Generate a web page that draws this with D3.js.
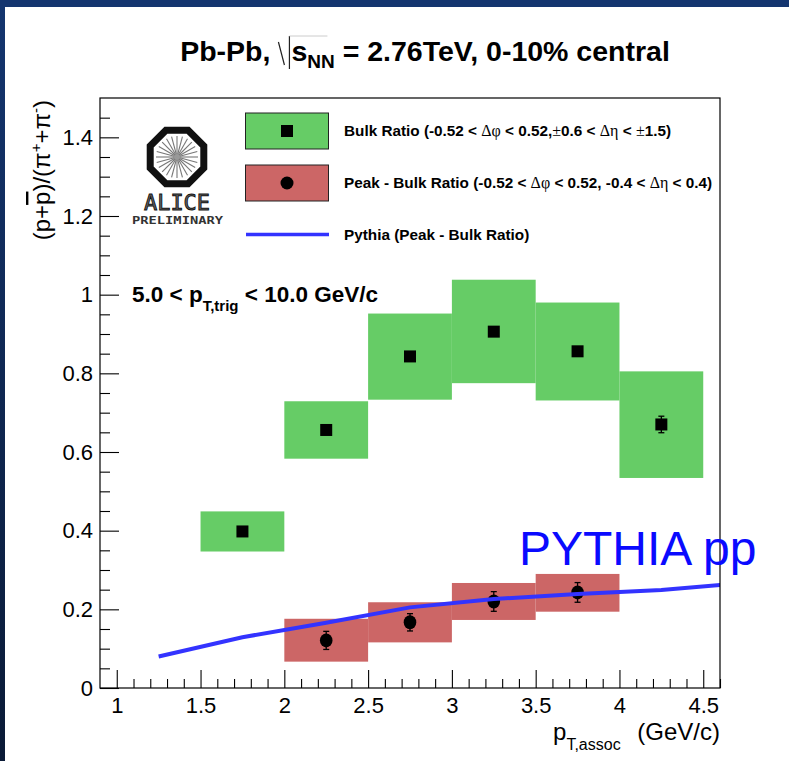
<!DOCTYPE html>
<html lang="en">
<head>
<meta charset="utf-8">
<title>Baryon / meson ratio, Pb-Pb 2.76 TeV</title>
<script src="https://d3js.org/d3.v7.min.js"></script>
<style>
  html, body { margin:0; padding:0; background:#fff; }
  svg { display:block; font-family:"Liberation Sans", Arial, Helvetica, sans-serif; }
  text { white-space: pre; }
</style>
</head>
<body>
<div id="chart"></div>
<script>
// ─── Data ────────────────────────────────────────────────────────────────────
const binHalf = 0.25;

// Bulk ratio
const bulkX     = [1.75, 2.25, 2.75, 3.25, 3.75, 4.25];
const bulkY     = [0.398, 0.656, 0.843, 0.906, 0.856, 0.670];
const bulkErr   = [0.008, 0.010, 0.010, 0.010, 0.010, 0.021];
const bulkSysLo = [0.347, 0.583, 0.733, 0.775, 0.731, 0.534];
const bulkSysHi = [0.449, 0.729, 0.952, 1.038, 0.980, 0.805];

// Peak - Bulk ratio
const peakX     = [2.25, 2.75, 3.25, 3.75];
const peakY     = [0.121, 0.167, 0.220, 0.243];
const peakErr   = [0.023, 0.022, 0.025, 0.025];
const peakSysLo = [0.067, 0.116, 0.173, 0.194];
const peakSysHi = [0.176, 0.218, 0.267, 0.290];

// Pythia (Peak - Bulk ratio)
const pythiaX = [1.25, 1.75, 2.25, 2.75, 3.25, 3.75, 4.25, 4.75];
const pythiaY = [0.080, 0.129, 0.166, 0.205, 0.226, 0.239, 0.249, 0.267];

// Axis ticks
const xMajor = [1, 1.5, 2, 2.5, 3, 3.5, 4, 4.5];
const xTickLabels = ["1", "1.5", "2", "2.5", "3", "3.5", "4", "4.5"];
const xMinor = d3.range(10, 47).map(v => v / 10).filter(v => !xMajor.includes(v));
const yMajor = [0, 0.2, 0.4, 0.6, 0.8, 1.0, 1.2, 1.4];
const yTickLabels = ["0", "0.2", "0.4", "0.6", "0.8", "1", "1.2", "1.4"];
const yMinor = d3.range(1, 30).map(v => v * 0.05).filter(v => Math.abs(v / 0.2 - Math.round(v / 0.2)) > 1e-6);

const legendLabels = [
  ["Bulk Ratio (-0.52 < ", {s:"Δφ"}, " < 0.52,", {s:"±"}, "0.6 < ", {s:"Δη"}, " < ", {s:"±"}, "1.5)"],
  ["Peak - Bulk Ratio (-0.52 < ", {s:"Δφ"}, " < 0.52, -0.4 < ", {s:"Δη"}, " < 0.4)"],
  ["Pythia (Peak - Bulk Ratio)"]
];
// ─────────────────────────────────────────────────────────────────────────────

const W = 789, H = 761;
const plot = { left: 100, right: 720, top: 98, bottom: 688 };
const GREEN = "#66cc66", RED = "#cc6666", BLUE = "#3333ff";

const svg = d3.select("#chart").append("svg").attr("width", W).attr("height", H);

// slide frame
const grad = svg.append("defs").append("linearGradient")
  .attr("id", "band").attr("x1", 0).attr("x2", 0).attr("y1", 0).attr("y2", 1);
grad.append("stop").attr("offset", "0%").attr("stop-color", "#14356f");
grad.append("stop").attr("offset", "100%").attr("stop-color", "#0a1a36");
svg.append("rect").attr("width", W).attr("height", H).attr("fill", "#fff");
svg.append("rect").attr("x", 0).attr("y", 0).attr("width", 5).attr("height", H).attr("fill", "url(#band)");
svg.append("rect").attr("x", 0).attr("y", 0).attr("width", W).attr("height", 7).attr("fill", "#14356f");

svg.select("defs").append("clipPath").attr("id", "plotClip")
  .append("rect").attr("x", plot.left).attr("y", plot.top)
  .attr("width", plot.right - plot.left).attr("height", plot.bottom - plot.top);

const x = d3.scaleLinear().domain([0.9, 4.6]).range([plot.left, plot.right]);
const y = d3.scaleLinear().domain([0, 1.5]).range([plot.bottom, plot.top]);

// Systematic boxes
function boxes(xs, lo, hi, color) {
  svg.append("g").selectAll("rect").data(xs).join("rect")
    .attr("x", d => x(d - binHalf))
    .attr("width", d => x(d + binHalf) - x(d - binHalf))
    .attr("y", (d, i) => y(hi[i]))
    .attr("height", (d, i) => y(lo[i]) - y(hi[i]))
    .attr("fill", color);
}
boxes(bulkX, bulkSysLo, bulkSysHi, GREEN);
boxes(peakX, peakSysLo, peakSysHi, RED);

// Error bars
function errBars(xs, ys, es) {
  const g = svg.append("g").attr("stroke", "#000").attr("stroke-width", 1.3);
  xs.forEach((d, i) => {
    const cx = x(d), y1 = y(ys[i] + es[i]), y2 = y(ys[i] - es[i]);
    g.append("line").attr("x1", cx).attr("x2", cx).attr("y1", y1).attr("y2", y2);
    g.append("line").attr("x1", cx - 3).attr("x2", cx + 3).attr("y1", y1).attr("y2", y1);
    g.append("line").attr("x1", cx - 3).attr("x2", cx + 3).attr("y1", y2).attr("y2", y2);
  });
}
errBars(bulkX, bulkY, bulkErr);
errBars(peakX, peakY, peakErr);

svg.append("g").selectAll("rect").data(bulkX).join("rect")
  .attr("x", d => x(d) - 6).attr("y", (d, i) => y(bulkY[i]) - 6)
  .attr("width", 12).attr("height", 12).attr("fill", "#000");
svg.append("g").selectAll("ellipse").data(peakX).join("ellipse")
  .attr("cx", d => x(d)).attr("cy", (d, i) => y(peakY[i]))
  .attr("rx", 6.3).attr("ry", 7).attr("fill", "#000");

// Pythia curve
svg.append("path")
  .datum(pythiaX.map((d, i) => [d, pythiaY[i]]))
  .attr("clip-path", "url(#plotClip)")
  .attr("d", d3.line().x(d => x(d[0])).y(d => y(d[1])))
  .attr("fill", "none").attr("stroke", BLUE).attr("stroke-width", 4);

// Axes
const yAx = svg.append("g").attr("transform", `translate(${plot.left},0)`);
yAx.call(d3.axisLeft(y).tickValues(yMajor).tickSize(-19).tickPadding(7)
  .tickFormat((d, i) => yTickLabels[i]));
yAx.append("g").call(d3.axisLeft(y).tickValues(yMinor).tickSize(-10).tickFormat(""));
const xAx = svg.append("g").attr("transform", `translate(0,${plot.bottom})`);
xAx.call(d3.axisBottom(x).tickValues(xMajor).tickSize(-18).tickPadding(9)
  .tickFormat((d, i) => xTickLabels[i]));
xAx.append("g").call(d3.axisBottom(x).tickValues(xMinor).tickSize(-9).tickFormat(""));
svg.selectAll(".domain").remove();
svg.selectAll(".tick line").attr("stroke", "#000").attr("stroke-width", 1.1);
svg.selectAll(".tick text").attr("fill", "#000")
  .style("font-size", "22px").style("font-family", "Liberation Sans, Arial, sans-serif");

// frame
svg.append("rect").attr("x", plot.left).attr("y", plot.top)
  .attr("width", plot.right - plot.left).attr("height", plot.bottom - plot.top)
  .attr("fill", "none").attr("stroke", "#000").attr("stroke-width", 1.2);

// Axis titles
const yt = svg.append("text")
  .attr("transform", `translate(50,${plot.top + 2}) rotate(-90)`)
  .attr("text-anchor", "end").style("font-size", "24px");
yt.append("tspan").text("(p+");
yt.append("tspan").style("text-decoration", "overline").text("p");
yt.append("tspan").text(")/(π");
yt.append("tspan").attr("dy", -9).style("font-size", "15px").text("+");
yt.append("tspan").attr("dy", 9).text("+π");
yt.append("tspan").attr("dy", -9).style("font-size", "15px").text("-");
yt.append("tspan").attr("dy", 9).text(")");

const xt = svg.append("text").attr("x", plot.right).attr("y", 740)
  .attr("text-anchor", "end").style("font-size", "24px");
xt.append("tspan").text("p");
xt.append("tspan").attr("dy", 10).style("font-size", "16px").text("T,assoc");
xt.append("tspan").attr("dy", -10).attr("dx", 10).text(" (GeV/c)");

// Title with root-style sqrt
const titleBase = 61, titleSize = 28.5;
const t1 = svg.append("text").attr("y", titleBase).style("font-size", titleSize + "px")
  .style("font-weight", "bold").text("Pb-Pb,");
const t2 = svg.append("text").attr("y", titleBase).style("font-size", titleSize + "px")
  .style("font-weight", "bold");
t2.append("tspan").text("s");
t2.append("tspan").attr("dy", 7).style("font-size", "19px").text("NN");
t2.append("tspan").attr("dy", -7).text(" = 2.76TeV, 0-10% central");
const w1 = t1.node().getComputedTextLength() + 8;
const w2 = t2.node().getComputedTextLength();
const sqW = 13;
const x0 = 425 - (w1 + sqW + w2) / 2;
t1.attr("x", x0);
t2.attr("x", x0 + w1 + sqW);
const sx = x0 + w1;
svg.append("path")
  .attr("d", `M${sx},${titleBase - 19} L${sx + 6},${titleBase + 4} M${sx + 11},${titleBase + 8} L${sx + 11},${titleBase - 25}`)
  .attr("stroke", "#222").attr("stroke-width", 1.2).attr("fill", "none");
svg.append("line").attr("x1", sx + 11).attr("x2", sx + sqW + 36).attr("y1", titleBase - 25).attr("y2", titleBase - 25)
  .attr("stroke", "#ccc").attr("stroke-width", 1);

// Trigger label
const trig = svg.append("text").attr("x", 132).attr("y", 302)
  .style("font-size", "22.5px").style("font-weight", "bold");
trig.append("tspan").text("5.0 < p");
trig.append("tspan").attr("dy", 9).style("font-size", "15px").text("T,trig");
trig.append("tspan").attr("dy", -9).text(" < 10.0 GeV/c");

// PYTHIA pp
svg.append("text").attr("x", 519).attr("y", 565)
  .style("font-size", "48px").attr("fill", "#0a0aff").text("PYTHIA pp");

// Legend
const legY = [131, 183, 234.5];
const lg = svg.append("g");
lg.append("rect").attr("x", 245.5).attr("y", legY[0] - 18).attr("width", 83).attr("height", 36)
  .attr("fill", GREEN).attr("stroke", "#222").attr("stroke-width", 1);
lg.append("rect").attr("x", 281).attr("y", legY[0] - 6).attr("width", 12).attr("height", 12).attr("fill", "#000");
lg.append("rect").attr("x", 245.5).attr("y", legY[1] - 18).attr("width", 83).attr("height", 36)
  .attr("fill", RED).attr("stroke", "#222").attr("stroke-width", 1);
lg.append("circle").attr("cx", 287).attr("cy", legY[1]).attr("r", 6.5).attr("fill", "#000");
lg.append("line").attr("x1", 246).attr("x2", 329).attr("y1", legY[2]).attr("y2", legY[2])
  .attr("stroke", BLUE).attr("stroke-width", 3.5);
legendLabels.forEach((parts, i) => {
  const t = lg.append("text").attr("x", 344).attr("y", legY[i] + 5)
    .style("font-size", "15.3px").style("font-weight", "bold");
  parts.forEach(p => {
    if (typeof p === "string") t.append("tspan").text(p);
    else t.append("tspan").style("font-weight", "normal")
      .style("font-family", "Liberation Serif, Times, serif").style("font-size", "16px").text(p.s);
  });
});

// ALICE logo
const logo = svg.append("g").attr("transform", "translate(177,157)");
const oct = d3.range(8).map(k => {
  const a = Math.PI / 8 + k * Math.PI / 4;
  return [29 * Math.cos(a), 29 * Math.sin(a)];
});
logo.append("polygon").attr("points", oct.map(p => p.join(",")).join(" "))
  .attr("fill", "#fff").attr("stroke", "#111").attr("stroke-width", 7);
logo.append("g").selectAll("line").data(d3.range(24)).join("line")
  .attr("x1", 0).attr("y1", 0)
  .attr("x2", k => 21 * Math.cos(k * Math.PI / 12))
  .attr("y2", k => 21 * Math.sin(k * Math.PI / 12))
  .attr("stroke", "#777").attr("stroke-width", 1.1);
logo.append("circle").attr("r", 3).attr("fill", "#999");
svg.append("text").attr("x", 177).attr("y", 210).attr("text-anchor", "middle")
  .attr("textLength", 66).attr("lengthAdjust", "spacingAndGlyphs")
  .style("font-family", "DejaVu Sans Mono, monospace").style("font-size", "22px")
  .attr("fill", "#666").attr("stroke", "#111").attr("stroke-width", 0.9).text("ALICE");
svg.append("text").attr("x", 177.5).attr("y", 224).attr("text-anchor", "middle")
  .attr("textLength", 91).attr("lengthAdjust", "spacingAndGlyphs")
  .style("font-family", "DejaVu Sans Mono, monospace").style("font-size", "10.5px")
  .style("font-weight", "bold").attr("fill", "#333").text("PRELIMINARY");
</script>
</body>
</html>
